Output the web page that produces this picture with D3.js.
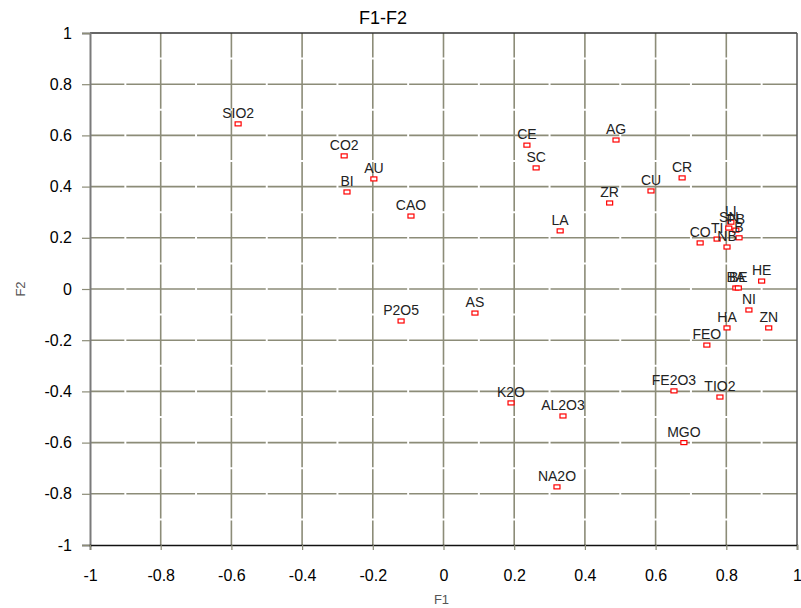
<!DOCTYPE html>
<html>
<head>
<meta charset="utf-8">
<script src="https://cdn.jsdelivr.net/npm/d3@7"></script>
<style>
  body { margin: 0; background: #fff; }
  svg { display: block; }
  text { font-family: "Liberation Sans", Arial, sans-serif; }
</style>
</head>
<body>
<svg id="chart" width="801" height="608"></svg>
<script>
// ---- data ----
const labels = ["SIO2","CO2","AU","BI","CAO","P2O5","AS","CE","SC","AG","LA","ZR","CU","CR",
  "K2O","AL2O3","NA2O","FE2O3","TIO2","MGO","FEO","HA","NI","ZN","HE","BA","BE",
  "LI","SN","PB","B","TI","NB","CO"];
const f1 = [-0.581,-0.281,-0.197,-0.273,-0.092,-0.120,0.089,0.236,0.262,0.488,0.330,0.470,0.587,0.675,
  0.191,0.338,0.321,0.652,0.782,0.680,0.745,0.802,0.864,0.920,0.900,0.827,0.834,
  0.813,0.807,0.827,0.836,0.774,0.802,0.726];
const f2 = [0.645,0.520,0.430,0.379,0.285,-0.125,-0.094,0.562,0.473,0.582,0.227,0.336,0.383,0.434,
  -0.445,-0.496,-0.773,-0.398,-0.422,-0.600,-0.219,-0.152,-0.082,-0.152,0.031,0.004,0.004,
  0.261,0.238,0.230,0.200,0.195,0.164,0.180];
const xTicks = [-1,-0.8,-0.6,-0.4,-0.2,0,0.2,0.4,0.6,0.8,1];
const yTicks = [-1,-0.8,-0.6,-0.4,-0.2,0,0.2,0.4,0.6,0.8,1];
const title = "F1-F2";
const xTitle = "F1";
const yTitle = "F2";

// ---- layout ----
const L = 90, R = 797, T = 33, B = 545;
const svg = d3.select("#chart");
const x = d3.scaleLinear().domain([-1, 1]).range([L, R]);
const y = d3.scaleLinear().domain([-1, 1]).range([B, T]);
const gridColor = "#8c8c78";
const fmt = d => String(Math.round(d * 10) / 10);

// grid lines with tiny white gaps at half steps
const hStep = (x(0.2) - x(0)) / 2;
const vStep = (y(0) - y(0.2)) / 2;
const gap = 2;
svg.append("g").selectAll("line").data(yTicks.slice(1, -1)).join("line")
  .attr("x1", L).attr("x2", R).attr("y1", d => y(d)).attr("y2", d => y(d))
  .attr("stroke", gridColor).attr("stroke-width", 1.6)
  .attr("stroke-dasharray", `${2*hStep-gap} ${gap}`)
  .attr("stroke-dashoffset", 2*hStep - gap - (hStep - gap/2));
svg.append("g").selectAll("line").data(xTicks.slice(1, -1)).join("line")
  .attr("y1", T).attr("y2", B).attr("x1", d => x(d)).attr("x2", d => x(d))
  .attr("stroke", gridColor).attr("stroke-width", 1.6)
  .attr("stroke-dasharray", `${2*vStep-gap} ${gap}`)
  .attr("stroke-dashoffset", 2*vStep - gap - (vStep - gap/2));

// border
svg.append("line").attr("x1", L).attr("x2", R).attr("y1", T).attr("y2", T)
  .attr("stroke", "#333").attr("stroke-width", 1.5);
svg.append("line").attr("x1", R).attr("x2", R).attr("y1", T).attr("y2", B)
  .attr("stroke", "#555").attr("stroke-width", 1.5);

// axes
const yAxis = d3.axisLeft(y).tickValues(yTicks).tickSize(8).tickPadding(10).tickFormat(fmt);
const gy = svg.append("g").attr("transform", `translate(${L},0)`).call(yAxis);
gy.select(".domain").attr("stroke", "#7a7a7a").attr("stroke-width", 2);
gy.selectAll(".tick line").attr("stroke", gridColor).attr("stroke-width", 1.2);
gy.selectAll(".tick text").attr("font-size", 16).attr("fill", "#000")
  .attr("font-family", "Liberation Sans, Arial, sans-serif");

const xAxis = d3.axisBottom(x).tickValues(xTicks).tickSize(5).tickPadding(20).tickFormat(fmt);
const gx = svg.append("g").attr("transform", `translate(0,${B})`).call(xAxis);
gx.select(".domain").attr("stroke", "#111").attr("stroke-width", 1.5);
gx.selectAll(".tick line").attr("stroke", gridColor).attr("stroke-width", 1.2);
gx.selectAll(".tick text").attr("font-size", 16).attr("fill", "#000")
  .attr("font-family", "Liberation Sans, Arial, sans-serif");

// titles
svg.append("text").attr("x", 383).attr("y", 24).attr("text-anchor", "middle")
  .attr("font-size", 18).attr("fill", "#000").text(title);
svg.append("text").attr("x", (L + R) / 2 - 2).attr("y", 604).attr("text-anchor", "middle")
  .attr("font-size", 13).attr("fill", "#555").text(xTitle);
svg.append("text").attr("transform", `translate(25,${y(0)}) rotate(-90)`)
  .attr("text-anchor", "middle").attr("font-size", 13).attr("fill", "#555").text(yTitle);

// points
const pts = labels.map((l, i) => ({ l, x: f1[i], y: f2[i] }));
const g = svg.append("g");
g.selectAll("rect").data(pts).join("rect")
  .attr("x", d => x(d.x) - 3).attr("y", d => y(d.y) - 2)
  .attr("width", 6).attr("height", 4)
  .attr("fill", "#fff").attr("stroke", "#ff0000").attr("stroke-width", 1.2);
g.selectAll("text").data(pts).join("text")
  .attr("x", d => x(d.x)).attr("y", d => y(d.y) - 6)
  .attr("text-anchor", "middle").attr("font-size", 14).attr("fill", "#222")
  .text(d => d.l);
</script>
</body>
</html>
